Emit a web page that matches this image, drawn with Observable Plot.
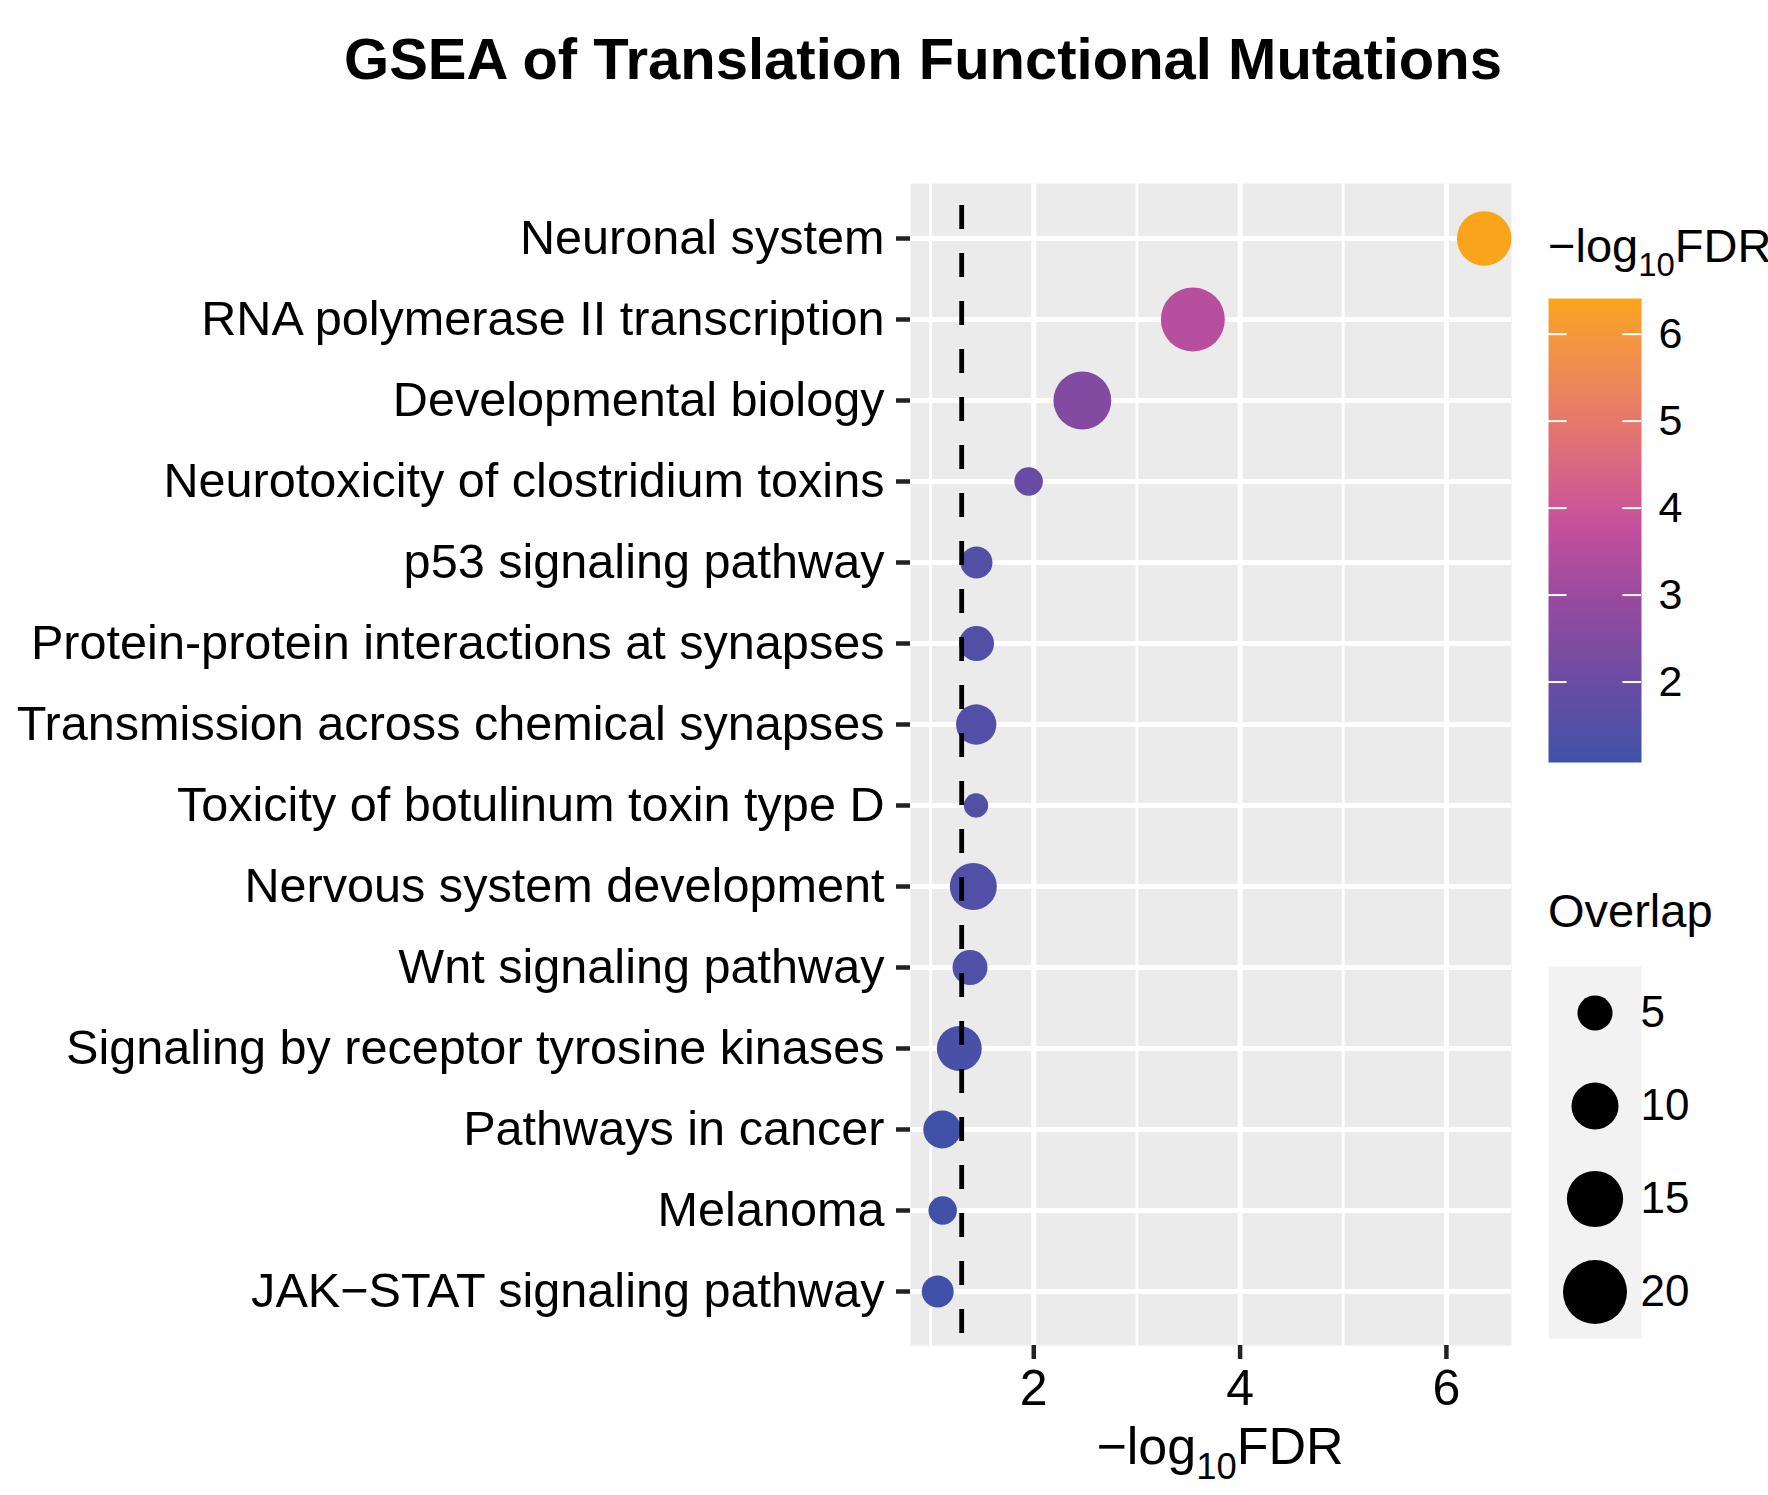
<!DOCTYPE html>
<html>
<head>
<meta charset="utf-8">
<script src="https://cdn.jsdelivr.net/npm/d3@7"></script>
<script src="https://cdn.jsdelivr.net/npm/@observablehq/plot@0.6"></script>
<style>
  html, body { margin: 0; padding: 0; background: #ffffff; }
  body { width: 1768px; height: 1495px; overflow: hidden; position: relative; font-family: "Liberation Sans", Arial, Helvetica, sans-serif; color: #000; }
  .abs { position: absolute; }
  .abs svg { max-width: none !important; overflow: visible; }
  #title { left: 0; width: 1846px; top: 30px; text-align: center; font-weight: bold; font-size: 58px; line-height: 58px; white-space: nowrap; }
  .axtitle { font-size: 52px; line-height: 52px; white-space: nowrap; }
  .legtitle { font-size: 47px; line-height: 47px; white-space: nowrap; }
  sub { font-size: 0.7em; vertical-align: baseline; position: relative; top: 0.42em; line-height: 0; }
</style>
</head>
<body>
<div id="title" class="abs">GSEA of Translation Functional Mutations</div>
<div id="main" class="abs" style="left:0;top:0"></div>
<div id="xtitle" class="abs axtitle" style="left:0;width:2440px;top:1420px;text-align:center">−log<sub>10</sub>FDR</div>
<div id="ctitle" class="abs legtitle" style="left:1548px;top:222px">−log<sub>10</sub>FDR</div>
<div id="cbar" class="abs" style="left:1548px;top:298px"></div>
<div id="stitle" class="abs legtitle" style="left:1548px;top:887px">Overlap</div>
<div id="sleg" class="abs" style="left:1548px;top:966px"></div>
<script>
// ---- data ----
const pathways = [
  "Neuronal system",
  "RNA polymerase II transcription",
  "Developmental biology",
  "Neurotoxicity of clostridium toxins",
  "p53 signaling pathway",
  "Protein-protein interactions at synapses",
  "Transmission across chemical synapses",
  "Toxicity of botulinum toxin type D",
  "Nervous system development",
  "Wnt signaling pathway",
  "Signaling by receptor tyrosine kinases",
  "Pathways in cancer",
  "Melanoma",
  "JAK\u2212STAT signaling pathway"
];
const negLog10FDR = [6.366, 3.542, 2.471, 1.95, 1.445, 1.445, 1.442, 1.440, 1.414, 1.382, 1.278, 1.112, 1.117, 1.069];
const overlap = [14, 20, 16, 3, 4, 5, 7, 2, 10, 5, 9, 6, 3, 4];
const xTicks = [2, 4, 6];
const xMinorTicks = [1, 3, 5];
const colorTicks = [2, 3, 4, 5, 6];
const sizeLegendValues = [5, 10, 15, 20];
const fdrThreshold = 1.30103; // -log10(0.05)

const data = pathways.map((p, i) => ({pathway: p, fdr: negLog10FDR[i], overlap: overlap[i]}));

const cMin = d3.min(negLog10FDR), cMax = d3.max(negLog10FDR);
const colorScale = {
  type: "linear",
  domain: [cMin, 2.0, 3.0, 3.8, 5.0, cMax],
  range: ["#3F51A8", "#6A4CA3", "#9A4A9F", "#C6509D", "#E6786C", "#F9A41B"],
  interpolate: "lab"
};
const rScale = {type: "sqrt", domain: [2, 20], range: [12.17, 32]};
const font = "Liberation Sans, Arial, Helvetica, sans-serif";

// ---- main panel ----
const main = Plot.plot({
  width: 1530, height: 1495,
  marginLeft: 910, marginRight: 19, marginTop: 183, marginBottom: 150,
  style: {fontFamily: font, fontSize: "48px", color: "#000", background: "transparent", overflow: "visible"},
  x: {domain: [0.805, 6.631], label: null},
  y: {type: "point", domain: pathways, padding: 0.6, label: null},
  r: rScale,
  color: colorScale,
  marks: [
    Plot.frame({fill: "#EBEBEB", stroke: null}),
    Plot.gridX(xMinorTicks, {stroke: "#ffffff", strokeOpacity: 1, strokeWidth: 2.8}),
    Plot.gridX(xTicks, {stroke: "#ffffff", strokeOpacity: 1, strokeWidth: 5}),
    Plot.gridY(pathways, {stroke: "#ffffff", strokeOpacity: 1, strokeWidth: 5}),
    Plot.dot(data, {x: "fdr", y: "pathway", r: "overlap", fill: "fdr", stroke: null}),
    Plot.ruleX([fdrThreshold], {stroke: "#000", strokeWidth: 4.8, strokeDasharray: "24,24", strokeDashoffset: 26}),
    Plot.axisX(xTicks, {tickSize: 14, tickPadding: 10, fontSize: 50, stroke: "#222", strokeWidth: 4.5, fill: "#000", label: null}),
    Plot.axisY({tickSize: 14, tickPadding: 12, fontSize: 48.6, stroke: "#222", strokeWidth: 4.5, fill: "#000", label: null})
  ]
});
document.getElementById("main").append(main);

// ---- colour bar legend ----
const cbar = Plot.plot({
  width: 220, height: 464,
  marginLeft: 0, marginRight: 127, marginTop: 0, marginBottom: 0,
  style: {fontFamily: font, fontSize: "43px", color: "#000", background: "transparent", overflow: "visible"},
  x: {domain: [0, 1], axis: null},
  y: {domain: [1.075, 6.41], axis: null},
  color: colorScale,
  marks: [
    Plot.raster({fill: (x, y) => y, x1: 0, x2: 1, y1: 1.075, y2: 6.41, width: 2, height: 464, imageRendering: "auto"}),
    Plot.ruleY(colorTicks, {x1: 0, x2: 0.2, stroke: "#ffffff", strokeWidth: 2}),
    Plot.ruleY(colorTicks, {x1: 0.8, x2: 1, stroke: "#ffffff", strokeWidth: 2}),
    Plot.text(colorTicks, {x: 1, y: d => d, dx: 17, text: d => String(d), textAnchor: "start", fontSize: 43, fill: "#000"})
  ]
});
document.getElementById("cbar").append(cbar);

// ---- size legend ----
const sleg = Plot.plot({
  width: 220, height: 372,
  marginLeft: 0, marginRight: 127, marginTop: 0, marginBottom: 0,
  style: {fontFamily: font, fontSize: "44px", color: "#000", background: "transparent", overflow: "visible"},
  x: {domain: [0, 1], axis: null},
  y: {type: "band", domain: sizeLegendValues, padding: 0, axis: null},
  r: rScale,
  marks: [
    Plot.frame({fill: "#F2F2F2", stroke: null}),
    Plot.dot(sizeLegendValues, {x: 0.5, y: d => d, r: d => d, fill: "#000", stroke: null}),
    Plot.text(sizeLegendValues, {x: 1, y: d => d, dx: -1, text: d => String(d), textAnchor: "start", fontSize: 44, fill: "#000"})
  ]
});
document.getElementById("sleg").append(sleg);
</script>
</body>
</html>
